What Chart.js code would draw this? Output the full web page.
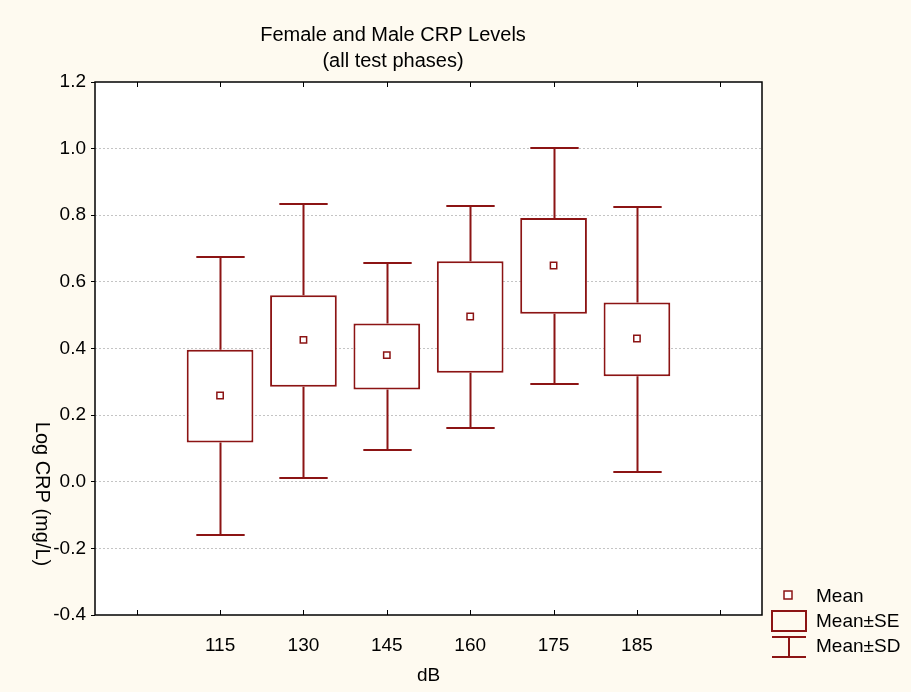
<!DOCTYPE html>
<html>
<head>
<meta charset="utf-8">
<script src="https://cdn.jsdelivr.net/npm/chart.js@4/dist/chart.umd.min.js"></script>
<style>
  html, body { margin: 0; padding: 0; background: #fefaf0; }
  #wrap { width: 911px; height: 692px; }
</style>
</head>
<body>
<div id="wrap"><canvas id="crpChart" width="911" height="692"></canvas></div>
<script>
const categories = ["115", "130", "145", "160", "175", "185"];
const means = [0.259, 0.426, 0.380, 0.496, 0.649, 0.430];
const seLow = [0.118, 0.285, 0.277, 0.327, 0.504, 0.317];
const seHigh = [0.396, 0.560, 0.475, 0.662, 0.792, 0.538];
const sdLow = [-0.159, 0.011, 0.094, 0.160, 0.294, 0.029];
const sdHigh = [0.674, 0.833, 0.656, 0.829, 1.002, 0.826];
const yTicks = [-0.4, -0.2, 0.0, 0.2, 0.4, 0.6, 0.8, 1.0, 1.2];

const RED = "#8c1414";
const FONT = "'Liberation Sans', Arial, sans-serif";

// empty slot on each side like the original axis
const labels = ["", ...categories, ""];
const pad = (arr) => [null, ...arr, null];

const framePlugin = {
  id: "frame",
  beforeDraw(chart) {
    const { ctx, chartArea: a } = chart;
    ctx.save();
    ctx.fillStyle = "#fefaf0";
    ctx.fillRect(0, 0, chart.width, chart.height);
    ctx.fillStyle = "#ffffff";
    ctx.fillRect(a.left, a.top, a.right - a.left, a.bottom - a.top);
    ctx.restore();
  },
  afterDatasetsDraw(chart) {
    const { ctx, chartArea: a, scales } = chart;
    const x = scales.x, y = scales.y;
    const step = (a.right - a.left) / labels.length;
    const cap = step * 0.58;
    ctx.save();
    ctx.strokeStyle = RED;
    ctx.lineWidth = 2;
    categories.forEach((c, i) => {
      const px = Math.round(x.getPixelForValue(i + 1)) + 0.5;
      const segs = [[sdHigh[i], seHigh[i]], [seLow[i], sdLow[i]]];
      ctx.beginPath();
      segs.forEach(([v0, v1]) => {
        ctx.moveTo(px, y.getPixelForValue(v0));
        ctx.lineTo(px, y.getPixelForValue(v1));
      });
      [sdHigh[i], sdLow[i]].forEach((v) => {
        const py = Math.round(y.getPixelForValue(v));
        ctx.moveTo(px - cap / 2, py);
        ctx.lineTo(px + cap / 2, py);
      });
      ctx.stroke();
    });
    ctx.restore();
  },
  afterDraw(chart) {
    const { ctx, chartArea: a, scales } = chart;
    ctx.save();
    // frame
    ctx.strokeStyle = "#000";
    ctx.lineWidth = 1.5;
    ctx.strokeRect(a.left, a.top, a.right - a.left, a.bottom - a.top);
    // inward x ticks on top and bottom
    ctx.beginPath();
    labels.forEach((l, i) => {
      const px = Math.round(scales.x.getPixelForValue(i)) + 0.5;
      ctx.moveTo(px, a.bottom);
      ctx.lineTo(px, a.bottom - 5);
      ctx.moveTo(px, a.top);
      ctx.lineTo(px, a.top + 5);
    });
    ctx.lineWidth = 1;
    ctx.stroke();

    ctx.fillStyle = "#000";
    ctx.textAlign = "center";
    ctx.textBaseline = "middle";
    ctx.font = "20px " + FONT;
    ctx.fillText("Female and Male CRP Levels", 393, 35);
    ctx.fillText("(all test phases)", 393, 61);
    ctx.font = "19px " + FONT;
    ctx.fillText("dB", (a.left + a.right) / 2, 676);

    ctx.save();
    ctx.font = "20px " + FONT;
    ctx.translate(42, 494);
    ctx.rotate(Math.PI / 2);
    ctx.fillText("Log CRP (mg/L)", 0, 0);
    ctx.restore();

    // legend
    ctx.strokeStyle = RED;
    ctx.lineWidth = 1.5;
    ctx.fillStyle = "#fff";
    ctx.fillRect(784, 591, 8, 8);
    ctx.strokeRect(784, 591, 8, 8);
    ctx.lineWidth = 2;
    ctx.strokeRect(772, 611, 34, 20);
    ctx.beginPath();
    ctx.moveTo(772, 637); ctx.lineTo(806, 637);
    ctx.moveTo(789, 637); ctx.lineTo(789, 657);
    ctx.moveTo(772, 657); ctx.lineTo(806, 657);
    ctx.stroke();
    ctx.fillStyle = "#000";
    ctx.textAlign = "left";
    ctx.font = "19px " + FONT;
    ctx.fillText("Mean", 816, 597);
    ctx.fillText("Mean\u00b1SE", 816, 622);
    ctx.fillText("Mean\u00b1SD", 816, 647);
    ctx.restore();
  },
};

const ctx = document.getElementById("crpChart").getContext("2d");

const chart = new Chart(ctx, {
  data: {
    labels: labels,
    datasets: [
      {
        type: "bar",
        label: "Mean\u00b1SE",
        data: pad(seLow.map((lo, i) => [lo, seHigh[i]])),
        backgroundColor: "#ffffff",
        borderColor: RED,
        borderWidth: 2,
        borderSkipped: false,
        barPercentage: 0.8,
        categoryPercentage: 1.0,
        order: 2,
      },
      {
        type: "line",
        label: "Mean",
        data: pad(means),
        showLine: false,
        pointStyle: "rect",
        pointRadius: 4.5,
        pointBackgroundColor: "#ffffff",
        pointBorderColor: RED,
        pointBorderWidth: 1.5,
        order: 1,
      },
    ],
  },
  options: {
    responsive: false,
    animation: false,
    layout: { padding: { left: 0, right: 149, top: 82, bottom: 0 } },
    plugins: {
      legend: { display: false },
      tooltip: { enabled: false },
      title: { display: false },
    },
    scales: {
      x: {
        type: "category",
        offset: true,
        grid: { display: false, offset: false },
        border: { display: false },
        ticks: {
          color: "#000",
          font: { family: FONT, size: 19 },
          padding: 11,
          maxRotation: 0,
          autoSkip: false,
        },
        afterFit(scale) { scale.height = 77; },
      },
      y: {
        min: -0.4,
        max: 1.2,
        afterBuildTicks(scale) {
          scale.ticks = yTicks.map((v) => ({ value: v }));
        },
        grid: {
          color: (c) => (c.tick && (c.tick.value === -0.4 || c.tick.value === 1.2) ? "rgba(0,0,0,0)" : "#c4c4c4"),
          lineWidth: 1,
          tickLength: 4,
          tickColor: "#000",
        },
        border: { display: false, dash: [2, 2] },
        ticks: {
          color: "#000",
          font: { family: FONT, size: 19 },
          padding: 5,
          callback: (v) => Number(v).toFixed(1),
        },
        afterFit(scale) { scale.width = 95; },
      },
    },
  },
  plugins: [framePlugin],
});
</script>
</body>
</html>
